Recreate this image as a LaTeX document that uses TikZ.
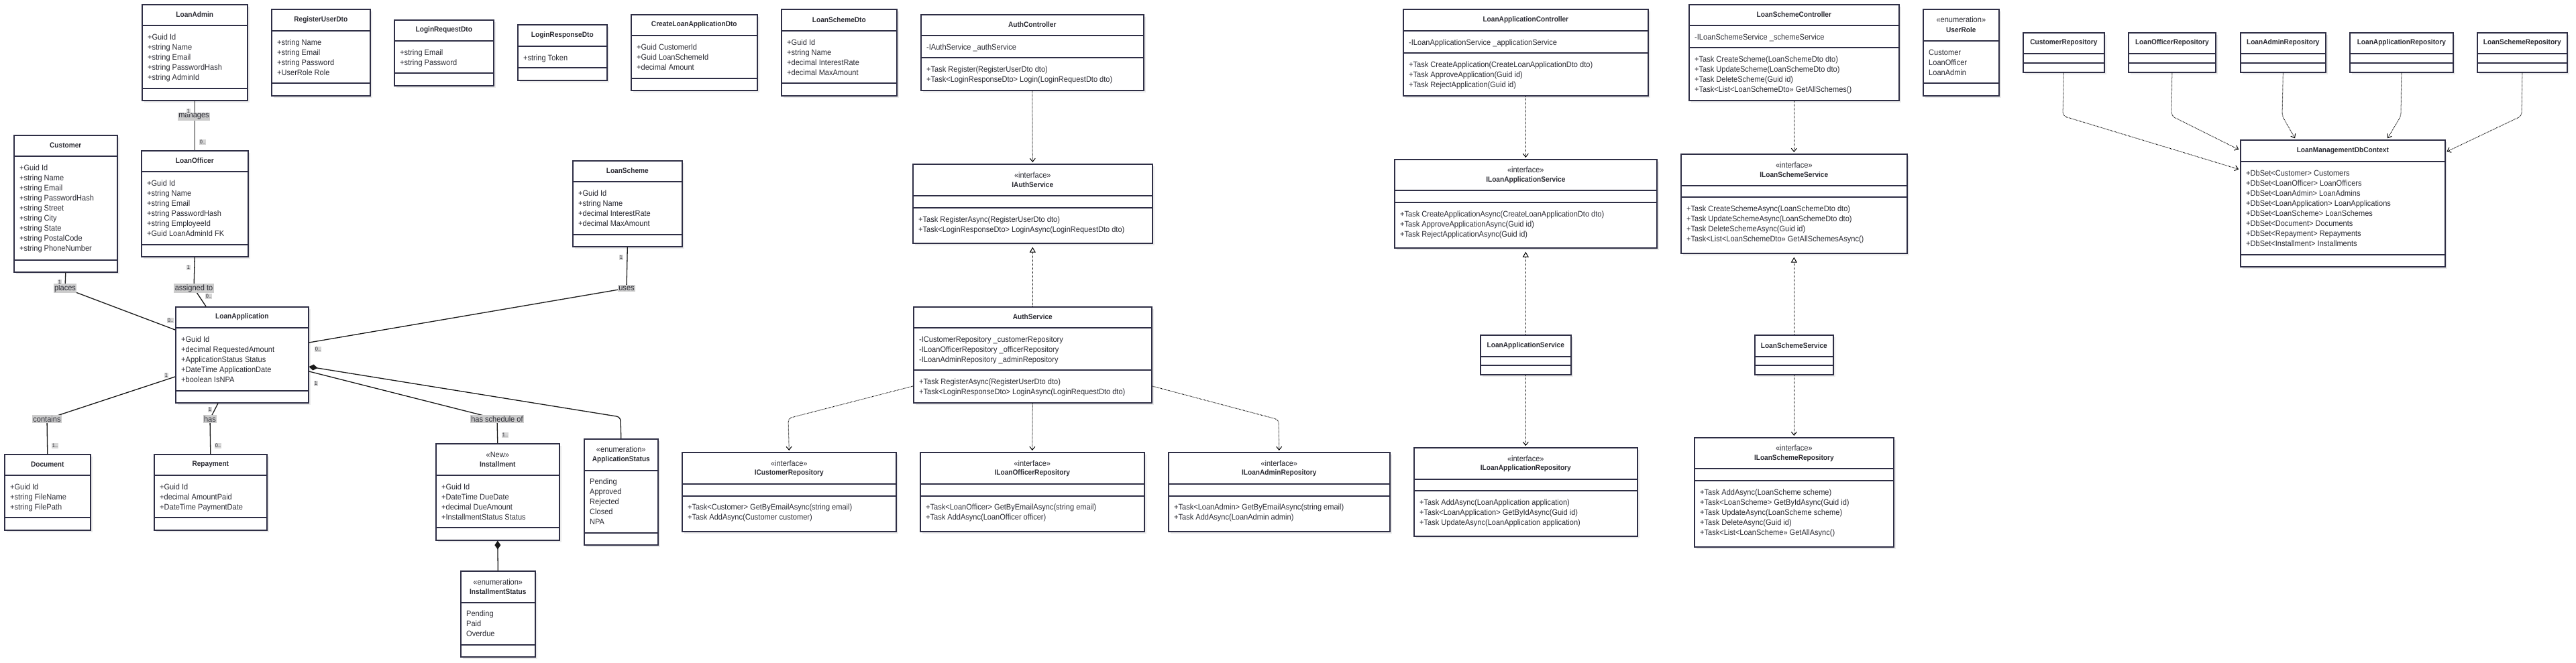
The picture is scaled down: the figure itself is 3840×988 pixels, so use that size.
\documentclass[tikz,border=0pt]{standalone}
\usepackage{fontspec}
\setmainfont{Liberation Sans}[FakeStretch=0.92]
\usetikzlibrary{calc}
\usetikzlibrary{arrows.meta}
\usetikzlibrary{shadows}
\definecolor{umlline}{HTML}{2E2E45}
\definecolor{umltext}{HTML}{2B2B33}
\definecolor{lblgray}{HTML}{CCCCCC}
\tikzset{
	classbox/.style={draw=umlline,line width=1.6pt,fill=white,inner sep=0pt,drop shadow={shadow xshift=3pt,shadow yshift=-3pt,fill=black!30,opacity=0.25}},
	divline/.style={draw=umlline,line width=1.4pt},
	ctitle/.style={font=\fontsize{11}{13}\selectfont\bfseries,text=umltext,inner sep=0pt},
	stereo/.style={font=\fontsize{12}{14}\selectfont,text=umltext,inner sep=0pt},
	member/.style={font=\fontsize{12}{15}\selectfont,text=umltext,inner sep=0pt,anchor=base west},
	assoc/.style={draw=black!90,line width=1.3pt},
	comp/.style={assoc,{Diamond[length=13pt,width=9pt]}-},
	dep/.style={draw=black,line width=1pt,dash pattern=on 1pt off 1pt,-{Straight Barb[length=5pt,width=8pt]},shorten >=2pt},
	real/.style={draw=black,line width=1pt,dash pattern=on 1pt off 1pt,-{Triangle[open,length=8pt,width=9pt]},shorten >=5pt},
	rolelbl/.style={fill=lblgray,inner sep=1.5pt,font=\fontsize{12}{14}\selectfont,text=umltext},
	multlbl/.style={fill=lblgray!80,inner sep=0.8pt,font=\fontsize{8}{9}\selectfont,text=umltext},
}
\newcommand{\classbox}[6]{%
	\node[classbox,anchor=north west,minimum width=#4-#2,minimum height=#5-#3] (#1) at (#2,#3) {};%
	\foreach \d in {#6}%
	\draw[divline] (#2,\d) -- (#4,\d);%
}
\newcommand{\classtitle}[3]{%
	\node[ctitle] (#1-t) at (#1.north |- 0,#2) {#3};%
}
\newcommand{\stereotitle}[5]{%
	\node[stereo] (#1-s) at (#1.north |- 0,#2) {«#3»};%
	\node[ctitle] (#1-t) at (#1.north |- 0,#4) {#5};%
}
\newcommand{\members}[4]{%
	\foreach \m [count=\k] in {#4}%
	\node[member] (#1-#2\k) at ($(#1.west |- 0,#3)+(9,15*\k-15)$) {\m};%
}

\begin{document}
\begin{tikzpicture}[x=1pt,y=-1pt]
	\useasboundingbox[fill=white] (0,0) rectangle (3840,988);
	\classbox{LoanAdmin}{211}{6}{368}{149}{38,132}
	\classtitle{LoanAdmin}{22}{LoanAdmin}
	\members{LoanAdmin}{a}{59}{+Guid Id, +string Name, +string Email, +string PasswordHash, +string AdminId}
	\classbox{RegisterUserDto}{404}{13}{551}{142}{46,124}
	\classtitle{RegisterUserDto}{29.5}{RegisterUserDto}
	\members{RegisterUserDto}{a}{67}{+string Name, +string Email, +string Password, +UserRole Role}
	\classbox{LoginRequestDto}{587}{29}{735}{127}{61,109}
	\classtitle{LoginRequestDto}{45}{LoginRequestDto}
	\members{LoginRequestDto}{a}{82}{+string Email, +string Password}
	\classbox{LoginResponseDto}{771}{36}{904}{119}{69,101}
	\classtitle{LoginResponseDto}{52.5}{LoginResponseDto}
	\members{LoginResponseDto}{a}{90}{+string Token}
	\classbox{CreateLoanApplicationDto}{940}{21}{1128}{134}{53,117}
	\classtitle{CreateLoanApplicationDto}{37}{CreateLoanApplicationDto}
	\members{CreateLoanApplicationDto}{a}{74}{+Guid CustomerId, +Guid LoanSchemeId, +decimal Amount}
	\classbox{LoanSchemeDto}{1164}{13}{1336}{142}{46,124}
	\classtitle{LoanSchemeDto}{29.5}{LoanSchemeDto}
	\members{LoanSchemeDto}{a}{67}{+Guid Id, +string Name, +decimal InterestRate, +decimal MaxAmount}
	\classbox{AuthController}{1372}{21}{1704}{134}{53,86}
	\classtitle{AuthController}{37}{AuthController}
	\members{AuthController}{a}{74}{-IAuthService \_authService}
	\members{AuthController}{m}{107}{+Task Register(RegisterUserDto dto), +Task<LoginResponseDto> Login(LoginRequestDto dto)}
	\classbox{LoanApplicationController}{2091}{13}{2456}{142}{46,79}
	\classtitle{LoanApplicationController}{29.5}{LoanApplicationController}
	\members{LoanApplicationController}{a}{67}{-ILoanApplicationService \_applicationService}
	\members{LoanApplicationController}{m}{100}{+Task CreateApplication(CreateLoanApplicationDto dto), +Task ApproveApplication(Guid id), +Task RejectApplication(Guid id)}
	\classbox{LoanSchemeController}{2517}{6}{2830}{149}{38,71}
	\classtitle{LoanSchemeController}{22}{LoanSchemeController}
	\members{LoanSchemeController}{a}{59}{-ILoanSchemeService \_schemeService}
	\members{LoanSchemeController}{m}{92}{+Task CreateScheme(LoanSchemeDto dto), +Task UpdateScheme(LoanSchemeDto dto), +Task DeleteScheme(Guid id), +Task<List<LoanSchemeDto>> GetAllSchemes()}
	\classbox{UserRole}{2866}{13}{2979}{142}{61,124}
	\stereotitle{UserRole}{29.5}{enumeration}{44.5}{UserRole}
	\members{UserRole}{a}{82}{Customer, LoanOfficer, LoanAdmin}
	\classbox{CustomerRepository}{3015}{48}{3136}{107}{80,94}
	\classtitle{CustomerRepository}{64}{CustomerRepository}
	\classbox{LoanOfficerRepository}{3172}{48}{3302}{107}{80,94}
	\classtitle{LoanOfficerRepository}{64}{LoanOfficerRepository}
	\classbox{LoanAdminRepository}{3339}{48}{3466}{107}{80,94}
	\classtitle{LoanAdminRepository}{64}{LoanAdminRepository}
	\classbox{LoanApplicationRepository}{3502}{48}{3656}{107}{80,94}
	\classtitle{LoanApplicationRepository}{64}{LoanApplicationRepository}
	\classbox{LoanSchemeRepository}{3692}{48}{3826}{107}{80,94}
	\classtitle{LoanSchemeRepository}{64}{LoanSchemeRepository}
	\classbox{LoanManagementDbContext}{3339}{208}{3644}{397}{241,380}
	\classtitle{LoanManagementDbContext}{224.5}{LoanManagementDbContext}
	\members{LoanManagementDbContext}{a}{262}{+DbSet<Customer> Customers, +DbSet<LoanOfficer> LoanOfficers, +DbSet<LoanAdmin> LoanAdmins, +DbSet<LoanApplication> LoanApplications, +DbSet<LoanScheme> LoanSchemes, +DbSet<Document> Documents, +DbSet<Repayment> Repayments, +DbSet<Installment> Installments}
	\classbox{Customer}{20}{201}{174}{405}{233,388}
	\classtitle{Customer}{217}{Customer}
	\members{Customer}{a}{254}{+Guid Id, +string Name, +string Email, +string PasswordHash, +string Street, +string City, +string State, +string PostalCode, +string PhoneNumber}
	\classbox{LoanOfficer}{210}{224}{369}{382}{256,365}
	\classtitle{LoanOfficer}{240}{LoanOfficer}
	\members{LoanOfficer}{a}{277}{+Guid Id, +string Name, +string Email, +string PasswordHash, +string EmployeeId, +Guid LoanAdminId FK}
	\classbox{LoanScheme}{853}{239}{1016}{367}{271,350}
	\classtitle{LoanScheme}{255}{LoanScheme}
	\members{LoanScheme}{a}{292}{+Guid Id, +string Name, +decimal InterestRate, +decimal MaxAmount}
	\classbox{IAuthService}{1360}{244}{1717}{362}{292,310}
	\stereotitle{IAuthService}{261}{interface}{276}{IAuthService}
	\members{IAuthService}{m}{331}{+Task RegisterAsync(RegisterUserDto dto), +Task<LoginResponseDto> LoginAsync(LoginRequestDto dto)}
	\classbox{ILoanApplicationService}{2078}{237}{2469}{369}{284,302}
	\stereotitle{ILoanApplicationService}{253}{interface}{269}{ILoanApplicationService}
	\members{ILoanApplicationService}{m}{323}{+Task CreateApplicationAsync(CreateLoanApplicationDto dto), +Task ApproveApplicationAsync(Guid id), +Task RejectApplicationAsync(Guid id)}
	\classbox{ILoanSchemeService}{2505}{229}{2842}{377}{277,294}
	\stereotitle{ILoanSchemeService}{246}{interface}{261}{ILoanSchemeService}
	\members{ILoanSchemeService}{m}{315}{+Task CreateSchemeAsync(LoanSchemeDto dto), +Task UpdateSchemeAsync(LoanSchemeDto dto), +Task DeleteSchemeAsync(Guid id), +Task<List<LoanSchemeDto>> GetAllSchemesAsync()}
	\classbox{LoanApplication}{261}{457}{459}{600}{489,583}
	\classtitle{LoanApplication}{473}{LoanApplication}
	\members{LoanApplication}{a}{510}{+Guid Id, +decimal RequestedAmount, +ApplicationStatus Status, +DateTime ApplicationDate, +boolean IsNPA}
	\classbox{AuthService}{1361}{457}{1716}{600}{489,552}
	\classtitle{AuthService}{473}{AuthService}
	\members{AuthService}{a}{510}{-ICustomerRepository \_customerRepository, -ILoanOfficerRepository \_officerRepository, -ILoanAdminRepository \_adminRepository}
	\members{AuthService}{m}{573}{+Task RegisterAsync(RegisterUserDto dto), +Task<LoginResponseDto> LoginAsync(LoginRequestDto dto)}
	\classbox{LoanApplicationService}{2206}{499}{2341}{558}{532,545}
	\classtitle{LoanApplicationService}{515.5}{LoanApplicationService}
	\classbox{LoanSchemeService}{2615}{499}{2732}{558}{532,545}
	\classtitle{LoanSchemeService}{515.5}{LoanSchemeService}
	\classbox{Document}{6}{677}{134}{790}{709,772}
	\classtitle{Document}{693}{Document}
	\members{Document}{a}{730}{+Guid Id, +string FileName, +string FilePath}
	\classbox{Repayment}{229}{677}{397}{790}{709,772}
	\classtitle{Repayment}{693}{Repayment}
	\members{Repayment}{a}{730}{+Guid Id, +decimal AmountPaid, +DateTime PaymentDate}
	\classbox{Installment}{649}{661}{833}{805}{709,787}
	\stereotitle{Installment}{678}{New}{693}{Installment}
	\members{Installment}{a}{730}{+Guid Id, +DateTime DueDate, +decimal DueAmount, +InstallmentStatus Status}
	\classbox{ApplicationStatus}{870}{654}{980}{812}{702,795}
	\stereotitle{ApplicationStatus}{670}{enumeration}{686}{ApplicationStatus}
	\members{ApplicationStatus}{a}{722}{Pending, Approved, Rejected, Closed, NPA}
	\classbox{InstallmentStatus}{686}{851}{797}{979}{899,962}
	\stereotitle{InstallmentStatus}{868}{enumeration}{883}{InstallmentStatus}
	\members{InstallmentStatus}{a}{919}{Pending, Paid, Overdue}
	\classbox{ICustomerRepository}{1016}{674}{1335}{792}{722,740}
	\stereotitle{ICustomerRepository}{691}{interface}{706}{ICustomerRepository}
	\members{ICustomerRepository}{m}{760}{+Task<Customer> GetByEmailAsync(string email), +Task AddAsync(Customer customer)}
	\classbox{ILoanOfficerRepository}{1371}{674}{1705}{792}{722,740}
	\stereotitle{ILoanOfficerRepository}{691}{interface}{706}{ILoanOfficerRepository}
	\members{ILoanOfficerRepository}{m}{760}{+Task<LoanOfficer> GetByEmailAsync(string email), +Task AddAsync(LoanOfficer officer)}
	\classbox{ILoanAdminRepository}{1741}{674}{2071}{792}{722,740}
	\stereotitle{ILoanAdminRepository}{691}{interface}{706}{ILoanAdminRepository}
	\members{ILoanAdminRepository}{m}{760}{+Task<LoanAdmin> GetByEmailAsync(string email), +Task AddAsync(LoanAdmin admin)}
	\classbox{ILoanApplicationRepository}{2107}{667}{2440}{799}{715,732}
	\stereotitle{ILoanApplicationRepository}{684}{interface}{699}{ILoanApplicationRepository}
	\members{ILoanApplicationRepository}{m}{753}{+Task AddAsync(LoanApplication application), +Task<LoanApplication> GetByIdAsync(Guid id), +Task UpdateAsync(LoanApplication application)}
	\classbox{ILoanSchemeRepository}{2525}{652}{2822}{815}{699,717}
	\stereotitle{ILoanSchemeRepository}{668}{interface}{684}{ILoanSchemeRepository}
	\members{ILoanSchemeRepository}{m}{738}{+Task AddAsync(LoanScheme scheme), +Task<LoanScheme> GetByIdAsync(Guid id), +Task UpdateAsync(LoanScheme scheme), +Task DeleteAsync(Guid id), +Task<List<LoanScheme>> GetAllAsync()}
	\coordinate (kPlaces) at (97,430);
	\coordinate (kAssigned) at (289,430);
	\coordinate (kUses) at (934,430);
	\coordinate (kSchedule) at (741,625);
	\coordinate (kStatus) at (925,622);
	\coordinate (kContains) at (70,625);
	\coordinate (kHas) at (313,625);
	\coordinate (kCustRepo) at (1175,624);
	\coordinate (kAdminRepo) at (1906,626);
	\coordinate (kRepoC) at (3075,173);
	\coordinate (kRepoO) at (3237,173);
	\coordinate (kRepoA) at (3402,173);
	\coordinate (kRepoL) at (3579,173);
	\coordinate (kRepoS) at (3759,173);
	\draw[assoc] (LoanAdmin.south) -- (LoanOfficer.north);
	\draw[assoc] (Customer.south) -- (kPlaces) -- (LoanApplication.west |- 0,492);
	\draw[assoc] (LoanOfficer.south) -- (kAssigned) -- (LoanApplication.north -| 307,0);
	\draw[assoc] (LoanScheme.south) -- (kUses) -- (LoanApplication.east |- 0,511);
	\draw[assoc] (LoanApplication.east |- 0,554) -- (kSchedule) -- (Installment.north);
	\draw[comp,rounded corners=6pt] (LoanApplication.east |- 0,547) -- (kStatus) -- (ApplicationStatus.north);
	\draw[assoc] (LoanApplication.west |- 0,562) -- (kContains) -- (Document.north);
	\draw[assoc] (LoanApplication.south -| 325,0) -- (kHas) -- (Repayment.north);
	\draw[comp] (Installment.south) -- (InstallmentStatus.north);
	\draw[dep] (AuthController.south) -- (IAuthService.north);
	\draw[dep] (LoanApplicationController.south) -- (ILoanApplicationService.north);
	\draw[dep] (LoanSchemeController.south) -- (ILoanSchemeService.north);
	\draw[dep] (LoanApplicationService.south) -- (ILoanApplicationRepository.north);
	\draw[dep] (LoanSchemeService.south) -- (ILoanSchemeRepository.north);
	\draw[dep] (AuthService.south) -- (ILoanOfficerRepository.north);
	\draw[dep,rounded corners=5pt] (AuthService.west |- 0,576) -- (kCustRepo) -- (ICustomerRepository.north);
	\draw[dep,rounded corners=5pt] (AuthService.east |- 0,576) -- (kAdminRepo) -- (ILoanAdminRepository.north);
	\draw[dep,rounded corners=5pt] (CustomerRepository.south) -- (kRepoC) -- (LoanManagementDbContext.west |- 0,253);
	\draw[dep,rounded corners=5pt] (LoanOfficerRepository.south) -- (kRepoO) -- (LoanManagementDbContext.west |- 0,224);
	\draw[dep,rounded corners=5pt] (LoanAdminRepository.south) -- (kRepoA) -- (LoanManagementDbContext.north -| 3422,0);
	\draw[dep,rounded corners=5pt] (LoanApplicationRepository.south) -- (kRepoL) -- (LoanManagementDbContext.north -| 3558,0);
	\draw[dep,rounded corners=5pt] (LoanSchemeRepository.south) -- (kRepoS) -- (LoanManagementDbContext.east |- 0,227);
	\draw[real] (AuthService.north) -- (IAuthService.south);
	\draw[real] (LoanApplicationService.north) -- (ILoanApplicationService.south);
	\draw[real] (LoanSchemeService.north) -- (ILoanSchemeService.south);
	\node[rolelbl] (lbManages) at (289,174) {manages};
	\node[rolelbl] (lbPlaces) at (kPlaces) {places};
	\node[rolelbl] (lbAssigned) at (kAssigned) {assigned to};
	\node[rolelbl] (lbUses) at (kUses) {uses};
	\node[rolelbl] (lbSchedule) at (kSchedule) {has schedule of};
	\node[rolelbl] (lbContains) at (kContains) {contains};
	\node[rolelbl] (lbHas) at (kHas) {has};
	\node[multlbl] (mAdmin) at (281,166) {1};
	\node[multlbl] (mOfficerA) at (302,212) {0..};
	\node[multlbl] (mCustomer) at (89,421) {1};
	\node[multlbl] (mAppC) at (254,478) {0..};
	\node[multlbl] (mOfficer) at (281,399) {1};
	\node[multlbl] (mAppO) at (311,442) {0..};
	\node[multlbl] (mScheme) at (926,384) {1};
	\node[multlbl] (mAppS) at (474,521) {0..};
	\node[multlbl] (mAppI) at (471,572) {1};
	\node[multlbl] (mInstallment) at (753,649) {1..};
	\node[multlbl] (mAppD) at (248,560) {1};
	\node[multlbl] (mDocument) at (82,665) {1..};
	\node[multlbl] (mAppR) at (313,611) {1};
	\node[multlbl] (mRepayment) at (325,665) {0..};
\end{tikzpicture}
\end{document}
